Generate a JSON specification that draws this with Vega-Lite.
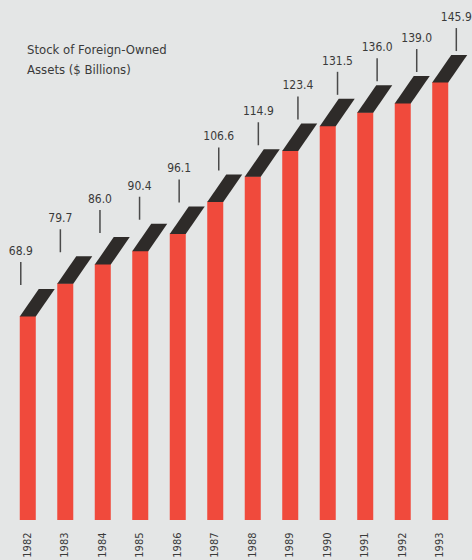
{
  "$schema": "https://vega.github.io/schema/vega-lite/v6.json",
  "width": 468,
  "height": 520,
  "autosize": {"type": "none"},
  "padding": {"left": 0, "top": 0, "right": 4, "bottom": 40},
  "background": "#e4e6e6",
  "config": {"view": {"stroke": null}},
  "title": {
    "text": ["Stock of Foreign-Owned", "Assets ($ Billions)"],
    "anchor": "start",
    "orient": "top",
    "baseline": "top",
    "offset": 0,
    "dx": 27,
    "dy": 77,
    "font": "DejaVu Sans Condensed, Liberation Sans Narrow, Roboto Condensed, sans-serif",
    "fontSize": 13,
    "fontWeight": "normal",
    "lineHeight": 20,
    "color": "#3a3a3a"
  },
  "data": {
    "values": [
      {"year": "1982", "value": 68.9, "label": "68.9"},
      {"year": "1983", "value": 79.7, "label": "79.7"},
      {"year": "1984", "value": 86.0, "label": "86.0"},
      {"year": "1985", "value": 90.4, "label": "90.4"},
      {"year": "1986", "value": 96.1, "label": "96.1"},
      {"year": "1987", "value": 106.6, "label": "106.6"},
      {"year": "1988", "value": 114.9, "label": "114.9"},
      {"year": "1989", "value": 123.4, "label": "123.4"},
      {"year": "1990", "value": 131.5, "label": "131.5"},
      {"year": "1991", "value": 136.0, "label": "136.0"},
      {"year": "1992", "value": 139.0, "label": "139.0"},
      {"year": "1993", "value": 145.9, "label": "145.9"}
    ]
  },
  "resolve": {"scale": {"x": "independent"}, "axis": {"x": "independent"}},
  "layer": [
    {
      "layer": [
        {
          "mark": {"type": "bar", "color": "#f04a3c", "clip": true},
          "encoding": {
            "x": {
              "field": "year",
              "type": "nominal",
              "sort": null,
              "scale": {"paddingInner": 0.573, "paddingOuter": 0.527},
              "axis": {
                "title": null,
                "ticks": false,
                "domain": false,
                "labelAngle": -90,
                "labelPadding": 12,
                "labelFont": "DejaVu Sans Condensed, Liberation Sans Narrow, Roboto Condensed, sans-serif",
                "labelFontSize": 11,
                "labelColor": "#3a3a3a"
              }
            },
            "y": {
              "field": "value",
              "type": "quantitative",
              "scale": {"domain": [1.8, 172.9], "zero": false, "nice": false},
              "axis": null
            }
          }
        },
        {
          "mark": {
            "type": "point",
            "filled": true,
            "opacity": 1,
            "size": 100,
            "color": "#2e2b29",
            "strokeWidth": 0,
            "shape": "M -1.6 0.1 L 1.6 0.1 L 5.4 -5.4 L 2.2 -5.4 Z"
          },
          "encoding": {
            "x": {"field": "year", "type": "nominal", "sort": null},
            "y": {"field": "value", "type": "quantitative"}
          }
        }
      ]
    },
    {
      "layer": [
        {
          "mark": {"type": "rule", "color": "#4a4a4a", "strokeWidth": 1.5, "yOffset": -54, "y2Offset": -31},
          "encoding": {
            "x": {
              "field": "year",
              "type": "nominal",
              "sort": null,
              "scale": {"type": "point", "padding": 0.41, "align": 0.64},
              "axis": null
            },
            "y": {"field": "value", "type": "quantitative"},
            "y2": {"field": "value"}
          }
        },
        {
          "mark": {
            "type": "text",
            "font": "DejaVu Sans Condensed, Liberation Sans Narrow, Roboto Condensed, sans-serif",
            "fontSize": 12,
            "color": "#3a3a3a",
            "baseline": "alphabetic",
            "align": "center",
            "yOffset": -61
          },
          "encoding": {
            "x": {"field": "year", "type": "nominal", "sort": null},
            "y": {"field": "value", "type": "quantitative"},
            "text": {"field": "label"}
          }
        }
      ]
    }
  ]
}
